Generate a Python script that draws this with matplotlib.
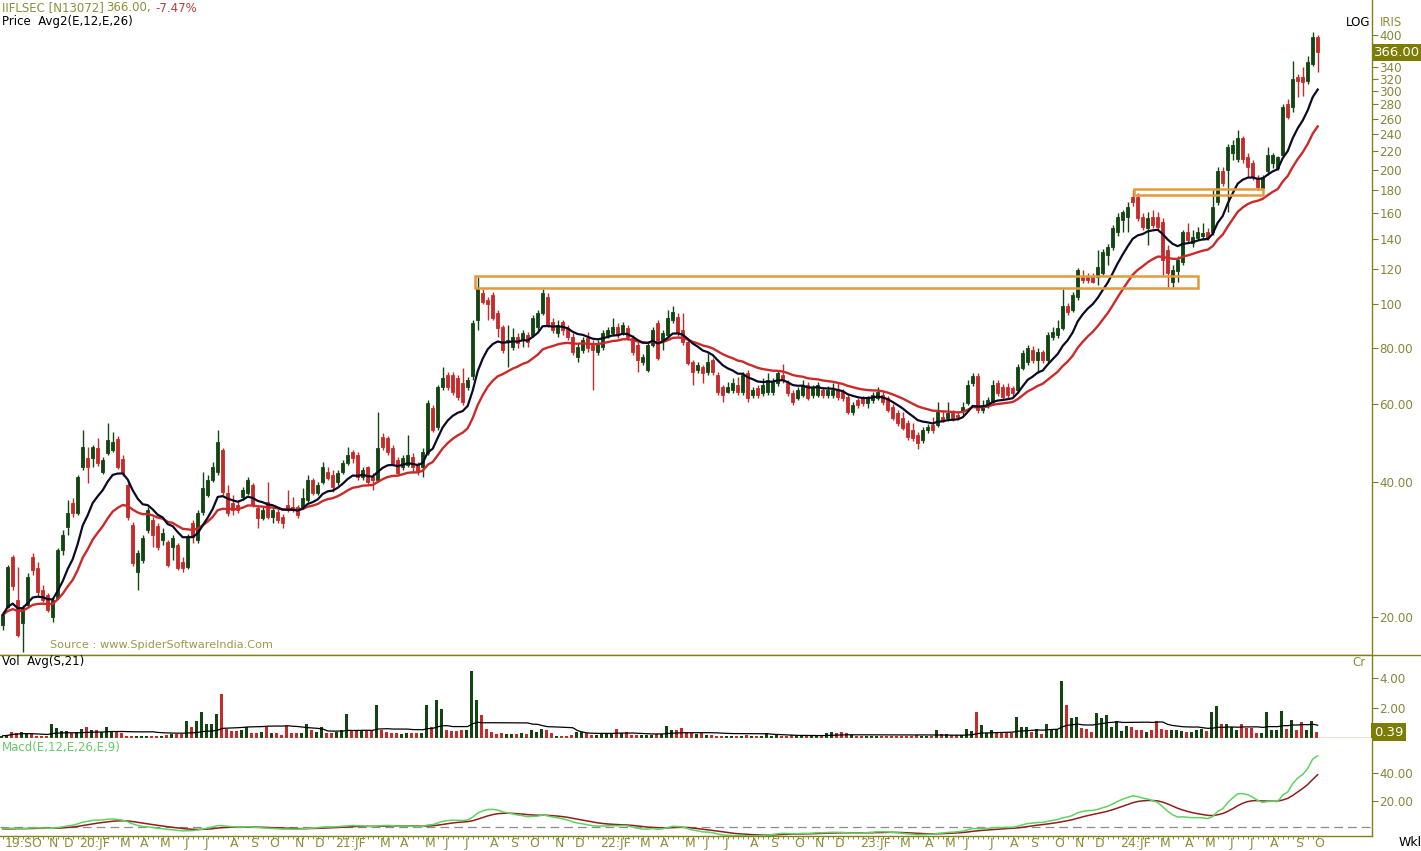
import matplotlib
matplotlib.use("Agg")
import matplotlib.pyplot as plt
from matplotlib.lines import Line2D
from matplotlib.patches import Rectangle
from matplotlib.ticker import FixedLocator, FuncFormatter, NullLocator
import numpy as np
import pandas as pd

# weekly candles, IIFLSEC, Sep 2019 - Oct 2024
week_start = pd.date_range("2019-09-23", periods=264, freq="7D")

opens = [
    19.2, 21.0, 27.2, 21.8, 19.4, 21.3, 27.2, 25.7, 23.0, 22.4,
    20.0, 22.1, 28.2, 31.8, 36.0, 34.2, 43.4, 45.4, 45.4, 47.8,
    42.2, 46.6, 47.3, 50.0, 45.1, 39.5, 32.1, 25.2, 26.8, 31.3,
    33.0, 32.0, 29.7, 29.4, 28.7, 29.0, 26.6, 25.9, 32.5, 29.7,
    34.4, 37.5, 40.5, 42.2, 47.3, 37.9, 36.0, 35.6, 37.1, 37.9,
    39.5, 35.1, 33.3, 36.1, 33.5, 34.4, 33.5, 35.6, 35.2, 35.2,
    35.2, 36.5, 40.5, 37.9, 40.0, 42.2, 41.6, 40.0, 42.2, 44.2,
    46.8, 46.1, 41.1, 43.2, 41.1, 40.5, 50.5, 50.3, 47.8, 44.9,
    43.2, 43.8, 45.6, 43.8, 43.2, 46.6, 58.7, 53.3, 65.4, 69.6,
    69.6, 68.5, 66.8, 65.4, 69.2, 92.4, 106, 102.5, 105.2, 95.7,
    89.1, 82.5, 80.4, 84.6, 83.4, 85.5, 85.5, 89.1, 95.7, 104,
    91.5, 86.4, 91.5, 88.7, 84.6, 76.3, 79.2, 84.0, 81.2, 78.4,
    80.4, 85.5, 86.4, 89.1, 86.8, 88.7, 84.0, 81.2, 74.4, 71.4,
    81.2, 91.0, 83.4, 85.5, 92.4, 93.8, 87.8, 82.5, 74.4, 71.4,
    72.5, 70.7, 75.2, 69.6, 65.4, 63.8, 64.4, 66.1, 63.8, 70.3,
    62.8, 65.0, 63.4, 63.8, 63.8, 66.8, 69.6, 66.8, 63.4, 61.8,
    62.8, 66.1, 62.8, 62.8, 64.4, 62.8, 62.8, 64.4, 63.8, 62.1,
    57.5, 61.2, 61.8, 60.3, 61.2, 61.8, 62.8, 61.8, 59.0, 57.2,
    55.7, 54.2, 52.4, 51.1, 49.8, 52.4, 53.8, 53.8, 56.1, 55.7,
    57.2, 56.6, 57.8, 60.3, 66.8, 69.2, 58.1, 59.6, 60.6, 66.8,
    65.4, 65.4, 65.0, 64.4, 72.1, 74.4, 79.2, 75.2, 78.4, 75.2,
    84.6, 85.5, 88.7, 99.0, 97.3, 104, 115.3, 115.3, 115.3, 115.3,
    117.8, 128.8, 134.6, 145.5, 154.8, 157.2, 173.5, 173.5, 157.2, 148.5,
    157.2, 157.2, 153.2, 132.6, 112.5, 119, 124.5, 145.5, 137.4, 141,
    142.5, 145.5, 145.5, 169.4, 198.3, 200.3, 218.6, 211, 235.6, 214,
    207.6, 192.2, 182.4, 198.3, 207.6, 202.3, 216.4, 280, 276, 322,
    322, 315.4, 344.4, 395.5,
]
highs = [
    20.5, 26.2, 27.5, 25.8, 21.3, 25.1, 27.8, 26.6, 23.6, 22.6,
    22.0, 28.5, 31.3, 36.5, 36.9, 41.6, 52.4, 48.0, 48.5, 50.3,
    45.6, 54.4, 51.8, 50.8, 46.1, 39.9, 32.6, 28.2, 30.5, 35.2,
    33.5, 32.5, 31.6, 29.7, 30.5, 29.3, 27.2, 30.7, 33.0, 34.7,
    42.2, 41.6, 44.4, 52.4, 47.8, 39.5, 37.5, 36.5, 39.1, 41.1,
    39.9, 35.4, 35.2, 40.0, 35.2, 34.9, 34.0, 38.5, 37.1, 35.6,
    38.9, 41.6, 40.9, 40.0, 44.4, 43.4, 42.6, 42.6, 44.9, 48.0,
    47.3, 46.8, 43.4, 43.6, 42.0, 57.5, 51.6, 50.8, 48.5, 45.6,
    46.1, 51.1, 46.6, 44.4, 47.8, 61.2, 59.6, 66.1, 72.5, 70.7,
    70.7, 69.6, 72.1, 68.9, 92.4, 115, 108, 104, 106.6, 97.3,
    90.0, 90.0, 88.7, 86.4, 87.8, 86.8, 94.8, 97.3, 108, 106,
    93.4, 92.4, 92.4, 90.0, 86.4, 82.1, 84.6, 86.8, 83.4, 83.4,
    87.8, 89.1, 93.4, 91.0, 91.5, 90.0, 85.5, 82.5, 77.6, 82.5,
    89.1, 92.4, 87.8, 97.3, 99.0, 95.7, 95.7, 83.4, 75.2, 74.4,
    73.3, 78.0, 76.0, 70.7, 66.1, 67.1, 68.5, 68.9, 70.7, 71.4,
    65.4, 66.1, 68.5, 70.3, 68.5, 71.4, 73.7, 67.8, 64.4, 65.4,
    67.8, 67.1, 66.1, 67.1, 65.4, 65.8, 66.8, 66.8, 64.7, 63.1,
    60.6, 61.8, 62.5, 62.5, 63.8, 65.4, 63.8, 62.5, 60.0, 58.1,
    57.5, 55.2, 54.4, 51.8, 53.3, 54.0, 56.1, 60.6, 58.1, 60.6,
    58.1, 57.5, 60.6, 67.8, 70.3, 70.3, 61.2, 62.1, 67.8, 67.8,
    66.5, 66.8, 65.8, 73.7, 79.2, 81.2, 80.8, 80.0, 79.2, 86.8,
    89.1, 92.4, 108, 100.5, 106.6, 120.8, 119.6, 117.8, 117.3, 132.6,
    133.3, 136.7, 150.8, 160, 163, 169.4, 180.6, 177.9, 160, 160.8,
    163, 160.8, 156.4, 136, 122.7, 128.5, 147, 152.4, 147, 149.3,
    152.4, 148.5, 180.6, 202.5, 202.5, 228, 233.8, 246, 238, 218.6,
    210.9, 195.2, 195.2, 224.6, 218.6, 215.3, 280, 287.4, 349.7, 327,
    339, 358.9, 406, 400,
]
lows = [
    18.7, 20.9, 23.0, 18.0, 16.7, 21.1, 24.8, 22.3, 21.6, 20.5,
    19.5, 21.9, 27.5, 30.5, 33.5, 33.8, 42.6, 39.9, 43.4, 43.6,
    41.8, 46.1, 46.8, 42.8, 41.4, 33.0, 26.0, 23.0, 26.4, 30.8,
    28.7, 28.2, 29.0, 25.8, 26.8, 25.5, 25.2, 25.6, 29.3, 29.3,
    33.8, 37.1, 40.0, 41.6, 37.5, 33.6, 33.8, 34.2, 36.5, 37.5,
    35.2, 31.6, 33.0, 33.2, 32.5, 32.5, 31.6, 34.4, 34.4, 33.3,
    35.1, 36.1, 37.5, 37.5, 39.7, 40.5, 38.1, 39.5, 41.8, 43.8,
    44.2, 40.5, 40.5, 39.7, 38.5, 40.0, 47.3, 46.1, 43.6, 41.6,
    42.6, 43.4, 42.0, 41.6, 41.1, 46.1, 51.8, 52.4, 64.4, 64.4,
    62.8, 61.2, 59.6, 64.4, 67.8, 87.8, 100, 92.4, 92.4, 84.6,
    78.0, 72.5, 79.2, 80.0, 80.4, 80.4, 84.6, 87.8, 94.8, 89.1,
    86.4, 84.6, 85.5, 83.4, 77.2, 74.4, 78.0, 78.4, 64.4, 77.2,
    79.2, 84.0, 85.1, 84.0, 85.5, 83.4, 77.2, 70.7, 73.3, 70.7,
    80.4, 75.2, 79.2, 84.6, 91.0, 85.1, 81.2, 73.3, 66.1, 70.3,
    66.8, 69.6, 69.6, 62.8, 60.6, 63.4, 63.4, 62.8, 62.8, 60.6,
    61.8, 61.8, 62.5, 62.8, 62.8, 65.8, 66.8, 62.5, 59.6, 61.2,
    62.1, 61.2, 61.8, 62.1, 61.8, 61.8, 61.8, 61.2, 60.9, 56.9,
    56.6, 58.7, 59.3, 58.7, 60.3, 61.2, 59.6, 57.5, 55.2, 53.5,
    52.4, 49.8, 49.5, 47.5, 49.0, 51.6, 51.6, 53.3, 54.5, 54.9,
    54.9, 55.2, 56.6, 59.6, 65.8, 57.2, 57.2, 58.7, 59.6, 62.5,
    61.2, 61.8, 62.5, 63.4, 71.4, 73.3, 74.0, 70.3, 74.0, 74.0,
    83.4, 84.0, 87.8, 94.8, 96.3, 102.5, 111.8, 111.8, 111.8, 110.7,
    116.5, 122.7, 132.6, 142.5, 145.5, 145.5, 166.3, 154.0, 147, 136,
    148.5, 147, 116.5, 109.6, 109.6, 112.5, 122.7, 137.4, 134.6, 139.6,
    139.6, 139.6, 143.3, 167.2, 184.4, 161.3, 210.9, 208.7, 207.6, 193.2,
    190.2, 180.6, 180.6, 195.2, 202.3, 200.3, 215, 259.2, 270, 290.3,
    292, 310.6, 341, 331,
]
closes = [
    20.2, 25.8, 23.4, 18.2, 20.9, 24.6, 25.5, 22.7, 21.8, 20.7,
    21.8, 28.2, 30.5, 34.2, 34.2, 41.2, 48.0, 43.4, 48.0, 44.2,
    44.9, 49.8, 49.3, 43.4, 42.0, 33.5, 26.4, 27.8, 30.0, 34.7,
    30.5, 28.7, 30.8, 26.1, 30.0, 25.7, 25.7, 30.2, 30.2, 34.2,
    38.9, 40.5, 43.4, 49.3, 38.1, 34.2, 34.7, 34.7, 38.5, 40.5,
    35.6, 33.3, 34.7, 33.5, 34.7, 33.0, 32.5, 34.7, 34.7, 33.8,
    36.9, 40.5, 37.9, 39.5, 43.4, 41.0, 39.1, 42.0, 44.2, 46.1,
    45.4, 41.1, 42.6, 40.0, 40.5, 47.8, 48.0, 46.8, 44.2, 42.0,
    45.4, 46.1, 43.2, 42.2, 46.8, 60.3, 52.4, 65.4, 68.5, 65.4,
    63.8, 62.1, 60.6, 67.8, 91.0, 108, 101.5, 100, 93.4, 88.7,
    79.2, 83.4, 84.6, 82.1, 86.4, 82.5, 93.4, 95.7, 106.1, 90.0,
    87.8, 90.0, 87.8, 84.6, 78.4, 80.4, 83.4, 80.0, 79.2, 82.1,
    86.4, 87.8, 89.1, 85.5, 90.0, 84.6, 78.4, 75.2, 76.3, 81.2,
    87.8, 76.0, 86.4, 93.4, 96.3, 86.4, 82.5, 74.0, 70.7, 73.3,
    70.3, 74.4, 70.7, 63.8, 62.8, 65.4, 66.8, 63.8, 69.6, 61.8,
    64.4, 62.8, 66.1, 67.8, 67.1, 70.3, 67.8, 63.4, 60.6, 64.4,
    66.1, 61.8, 65.0, 66.1, 62.8, 64.4, 64.4, 62.1, 61.8, 57.5,
    59.6, 59.6, 60.3, 61.8, 62.8, 63.8, 60.6, 58.1, 55.7, 54.2,
    53.0, 50.6, 50.3, 49.0, 52.4, 53.3, 52.4, 57.5, 55.2, 57.2,
    55.7, 56.1, 59.0, 66.1, 69.2, 58.1, 59.6, 61.2, 66.1, 63.4,
    62.1, 62.8, 63.4, 72.5, 78.0, 80.0, 75.2, 78.4, 75.2, 85.5,
    86.8, 88.7, 99.0, 96.3, 105.2, 119.6, 113.6, 113.6, 112.5, 121.5,
    131.2, 134.6, 148.5, 157.2, 160.8, 165.5, 169.4, 156.4, 149.3, 156.4,
    150.8, 149.3, 126, 117.8, 119.6, 126, 145.5, 139.6, 141.8, 145.5,
    144.4, 141, 165.5, 198.3, 187.3, 225.4, 227.8, 235.6, 211, 203.4,
    193.2, 183.4, 193.2, 216.4, 216.4, 213.2, 277, 263.2, 318.7, 315.4,
    313.8, 348, 396, 366,
]
# volume in crore shares
volumes = [
    0.15, 0.2, 0.38, 0.33, 0.38, 0.3, 0.25, 0.15, 0.1, 0.12,
    0.95, 0.65, 0.45, 0.45, 0.3, 0.4, 0.6, 0.7, 0.5, 0.55,
    0.4, 0.7, 0.4, 0.4, 0.35, 0.15, 0.15, 0.12, 0.15, 0.15,
    0.15, 0.12, 0.15, 0.2, 0.25, 0.25, 0.25, 1.1, 0.7, 1.1,
    1.75, 0.95, 0.95, 1.6, 2.95, 0.6, 0.45, 0.45, 0.55, 0.75,
    0.3, 0.3, 0.4, 0.7, 0.3, 0.3, 0.2, 0.8, 0.35, 0.3,
    0.35, 0.95, 0.5, 0.4, 0.7, 0.3, 0.3, 0.4, 0.5, 1.6,
    0.55, 0.45, 0.45, 0.45, 0.5, 2.2, 0.55, 0.4, 0.35, 0.3,
    0.25, 0.35, 0.3, 0.3, 0.35, 2.2, 0.7, 2.5, 1.9, 0.5,
    0.45, 0.45, 0.5, 0.5, 4.45, 2.5, 1.5, 0.6, 0.42, 0.27,
    0.3, 0.27, 0.25, 0.25, 0.3, 0.25, 0.55, 0.4, 0.6, 0.55,
    0.3, 0.15, 0.15, 0.15, 0.2, 0.4, 0.4, 0.3, 0.2, 0.2,
    0.25, 0.25, 0.35, 0.6, 0.35, 0.4, 0.2, 0.2, 0.2, 0.2,
    0.2, 0.25, 0.25, 0.8, 0.55, 0.5, 0.65, 0.4, 0.35, 0.25,
    0.3, 0.2, 0.2, 0.15, 0.1, 0.1, 0.15, 0.15, 0.15, 0.2,
    0.1, 0.15, 0.1, 0.35, 0.15, 0.2, 0.15, 0.15, 0.2, 0.15,
    0.2, 0.15, 0.1, 0.2, 0.2, 0.35, 0.4, 0.3, 0.4, 0.3,
    0.2, 0.15, 0.15, 0.15, 0.15, 0.15, 0.15, 0.15, 0.15, 0.15,
    0.15, 0.15, 0.15, 0.2, 0.15, 0.1, 0.15, 0.55, 0.25, 0.25,
    0.2, 0.2, 0.2, 0.6, 0.45, 1.75, 0.85, 0.35, 0.5, 0.35,
    0.3, 0.3, 0.35, 1.4, 0.7, 0.7, 0.4, 0.6, 0.25, 0.9,
    0.5, 0.6, 3.8, 2.2, 1.3, 1.4, 0.65, 0.6, 0.4, 1.65,
    1.3, 1.55, 0.7, 1.1, 0.45, 0.8, 0.75, 0.55, 0.55, 0.4,
    0.5, 1.15, 0.6, 0.5, 0.55, 0.55, 0.45, 0.4, 0.4, 0.55,
    0.6, 0.45, 1.7, 2.1, 0.9, 0.95, 0.75, 0.5, 0.9, 0.65,
    0.65, 0.3, 0.3, 1.75, 0.55, 0.5, 1.8, 0.6, 1.2, 0.5,
    1.05, 0.5, 1.1, 0.39,
]

# supply zones: (from week, to week, low, high)
zones = [(94.5, 239.1, 108.9, 115.8), (226.3, 252.1, 176.0, 181.5)]

price_ticks = [20, 40, 60, 80, 100, 120, 140, 160, 180, 200, 220, 240,
               260, 280, 300, 320, 340, 360, 380, 400]
hidden_ticks = [360, 380]  # sit under the last-price box
pct_change = -7.47

for name, seq in [("opens", opens), ("highs", highs), ("lows", lows),
                  ("closes", closes), ("volumes", volumes)]:
    if len(seq) != len(week_start):
        raise ValueError(f"{name} has {len(seq)} values")

df = pd.DataFrame({"open": opens, "high": highs, "low": lows,
                   "close": closes, "vol": volumes}, index=week_start)
ema12 = df["close"].ewm(span=12, adjust=False).mean()
ema26 = df["close"].ewm(span=26, adjust=False).mean()
macd = ema12 - ema26
signal = macd.ewm(span=9, adjust=False).mean()
vol_avg = df["vol"].rolling(21, min_periods=1).mean()

GREEN = "#124512"
RED = "#c62a2a"
OLIVE = "#808020"
LABEL = "#86863a"

W, H = 1421, 851
fig = plt.figure(figsize=(W / 100, H / 100), dpi=100)
fig.patch.set_facecolor("white")


def panel(top, bottom):
    return fig.add_axes([0, 1 - bottom / H, 1372 / W, (bottom - top) / H])


ax_p = panel(0, 655)
ax_v = panel(655, 738)
ax_m = panel(738, 836)

x = np.arange(len(df))
xlim = (-0.54, 273.86)
up = (df["close"] >= df["open"]).to_numpy()
colors = np.where(up, GREEN, RED)

for ax in (ax_p, ax_v, ax_m):
    ax.set_xlim(*xlim)
    ax.set_facecolor("white")
    for s in ("top", "left"):
        ax.spines[s].set_visible(False)
    for s in ("right", "bottom"):
        ax.spines[s].set_color(OLIVE)
        ax.spines[s].set_linewidth(1.0)
    ax.yaxis.tick_right()
    ax.tick_params(axis="y", which="major", direction="out", length=4, width=0.8,
                   color=OLIVE, labelcolor=LABEL, labelsize=8.6, pad=1.2)
    ax.tick_params(axis="x", which="both", bottom=False, labelbottom=False)
    ax.set_xticks([])


def price_label(v, _):
    if v in hidden_ticks:
        return ""
    return f"{v:.2f}" if v < 100 else f"{v:.0f}"


# price panel
ax_p.set_yscale("log")
ax_p.set_ylim(16.44, 479.6)
ax_p.yaxis.set_minor_locator(NullLocator())
ax_p.yaxis.set_major_locator(FixedLocator(price_ticks))
ax_p.yaxis.set_major_formatter(FuncFormatter(price_label))

ax_p.vlines(x, df["low"], df["high"], colors=colors, linewidth=1.0, zorder=2)
lo = np.minimum(df["open"], df["close"])
hi = np.maximum(df["open"], df["close"])
ax_p.bar(x, hi - lo, bottom=lo, width=0.62, color=colors, edgecolor=colors,
         linewidth=0.6, zorder=2)
ax_p.plot(x, ema26, color="#cc2a2a", lw=1.7, zorder=3)
ax_p.plot(x, ema12, color="#0b0b26", lw=1.6, zorder=3)

for x0, x1, zlo, zhi in zones:
    ax_p.add_patch(Rectangle((x0, zlo), x1 - x0, zhi - zlo, fill=False,
                             edgecolor="#e39a3a", lw=1.8, zorder=4))

box = dict(boxstyle="square,pad=0.12", fc="#7c7c06", ec="none")
ax_p.annotate(f"{closes[-1]:.2f}", xy=(1, closes[-1]),
              xycoords=("axes fraction", "data"), xytext=(1.5, 0),
              textcoords="offset points", ha="left", va="center",
              color="white", fontsize=9.5, zorder=10, annotation_clip=False,
              bbox=box)
ax_p.text(50 / 1372, 0.0155, "Source : www.SpiderSoftwareIndia.Com",
          transform=ax_p.transAxes, color="#9a9a4a", fontsize=8.1, va="center")

# volume panel
ax_v.set_ylim(0, 5.53)
ax_v.yaxis.set_major_locator(FixedLocator([2, 4]))
ax_v.yaxis.set_major_formatter(FuncFormatter(lambda v, _: f"{v:.2f}"))
ax_v.bar(x - 0.2, df["vol"], width=0.62, color=colors, linewidth=0, zorder=2)
ax_v.plot(x, vol_avg, color="black", lw=0.9, zorder=3)
ax_v.annotate(f"{volumes[-1]:.2f}", xy=(1, volumes[-1]),
              xycoords=("axes fraction", "data"), xytext=(1.5, 0),
              textcoords="offset points", ha="left", va="center",
              color="white", fontsize=9.5, zorder=10, annotation_clip=False,
              bbox=dict(boxstyle="square,pad=0.2", fc="#7c7c06", ec="none"))

# macd panel
ax_m.set_ylim(-5, 65)
ax_m.yaxis.set_major_locator(FixedLocator([20, 40]))
ax_m.yaxis.set_major_formatter(FuncFormatter(lambda v, _: f"{v:.2f}"))
ax_m.axhline(1.4, color="#8c8c8c", lw=0.9, ls=(0, (7, 4)), zorder=1)
ax_m.plot(x, signal, color="#8e1f1f", lw=1.1, zorder=2)
ax_m.plot(x, macd, color="#5fd35f", lw=1.1, zorder=3)
ax_m.set_xticks(x, minor=True)
ax_m.tick_params(axis="x", which="minor", bottom=True, length=2, width=0.6,
                 color=OLIVE, direction="out")

# separator across the full width
fig.add_artist(Line2D([0, 1], [1 - 655 / H] * 2, color=OLIVE, lw=1.0))


# header and panel titles
def ftext(px, py, s, **kw):
    kw.setdefault("fontsize", 8.5)
    kw.setdefault("va", "center")
    return fig.text(px / W, 1 - py / H, s, **kw)


ftext(2, 8, "IIFLSEC [N13072]", color="#8e8e3c")
ftext(106, 8, f"{closes[-1]:.2f},", color="#8e8e3c")
ftext(155, 8, f"{pct_change:.2f}%", color="#c43c3c")
ftext(2, 22, "Price  Avg2(E,12,E,26)", color="black")
ftext(1346, 22, "LOG", color="black")
ftext(1380, 22, "IRIS", color="#8e8e3c")
ftext(2, 662, "Vol  Avg(S,21)", color="black")
ftext(1352, 662, "Cr", color="#8e8e3c")
ftext(2, 748, "Macd(E,12,E,26,E,9)", color="#66cc66")
ftext(1399, 843, "Wkl", color="black", fontsize=9)

# month labels: first week whose Friday falls in the month, year marks take Jan+Feb
initials = "JFMAMJJASOND"
ticks = []
prev_month = None
absorb = False
for i, d in enumerate(week_start + pd.Timedelta(days=4)):
    if d.month == prev_month:
        continue
    prev_month = d.month
    if absorb:
        ticks[-1][1] += initials[d.month - 1]
        absorb = False
        continue
    if i == 0 or d.month == 1:
        ticks.append([i, f"{d:%y}:" + initials[d.month - 1]])
        absorb = True
    else:
        ticks.append([i, initials[d.month - 1]])

fig.canvas.draw()
renderer = fig.canvas.get_renderer()
last_end = -1e9
for i, lab in ticks:
    px = ax_m.transData.transform((i, 0))[0] + 2
    px = max(px, last_end + 6)
    t = fig.text(px / W, 1 - 837 / H, lab, ha="left", va="top",
                 color="#8e8e3c", fontsize=9)
    last_end = t.get_window_extent(renderer).x1

fig.savefig("out.png", dpi=100, facecolor="white")
